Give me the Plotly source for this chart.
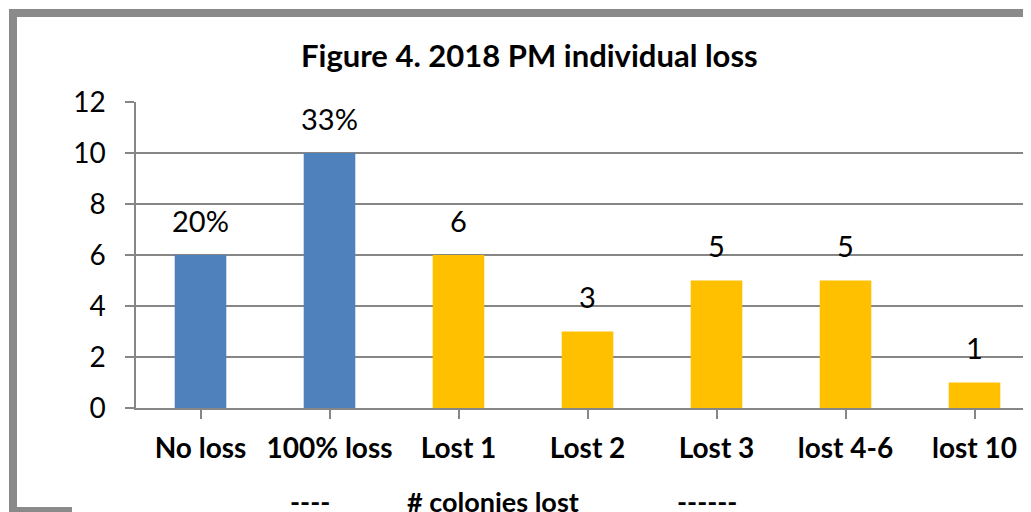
import plotly.graph_objects as go

categories = ["No loss", "100% loss", "Lost 1", "Lost 2", "Lost 3", "lost 4-6", "lost 10"]
values = [6, 10, 6, 3, 5, 5, 1]
labels = ["20%", "33%", "6", "3", "5", "5", "1"]
bar_colors = ["#4F81BD", "#4F81BD", "#FFC000", "#FFC000", "#FFC000", "#FFC000", "#FFC000"]
y_ticks = [0, 2, 4, 6, 8, 10, 12]

# page body has an 8px margin; work in reference pixel coordinates and subtract it
OFF = 8
W, H = 1031, 512
L = 136 - OFF
T = 102 - OFF
B = H - (408 - OFF)
R = 0
PW, PH = W - L - R, H - T - B
CAT_PX = 129.0

FONT = "Lato"

def px_x(px):
    return (px - OFF - L) / PW

def px_y(py):
    return (H - B - (py - OFF)) / PH

fig = go.Figure()
fig.add_trace(go.Bar(
    x=list(range(len(categories))),
    y=values,
    marker=dict(color=bar_colors, line=dict(width=0)),
    width=0.4,
    text=labels,
    textposition="none",
    hoverinfo="skip",
))

for i, (v, t) in enumerate(zip(values, labels)):
    fig.add_annotation(x=i, y=v, text=t, showarrow=False, yshift=35,
                       xanchor="center", yanchor="middle",
                       font=dict(family=FONT, size=29, color="#000000"),
                       xref="x", yref="y")

gray = "#8A8A8A"
frame_w = 8
shapes = [
    dict(type="line", xref="paper", yref="paper", x0=px_x(9), x1=px_x(1045), y0=px_y(13), y1=px_y(13),
         line=dict(color=gray, width=frame_w)),
    dict(type="line", xref="paper", yref="paper", x0=px_x(13), x1=px_x(13), y0=px_y(9), y1=px_y(530),
         line=dict(color=gray, width=frame_w)),
    dict(type="line", xref="paper", yref="paper", x0=px_x(9), x1=px_x(72), y0=px_y(511), y1=px_y(511),
         line=dict(color=gray, width=frame_w)),
]

fig.add_annotation(x=px_x(529), y=px_y(55), xref="paper", yref="paper", showarrow=False,
                   xanchor="center", yanchor="middle",
                   text="<b>Figure 4. 2018 PM individual loss</b>",
                   font=dict(family=FONT, size=31, color="#000000"))
for xc, txt in [(310, "----"), (493, "# colonies lost"), (707, "------")]:
    fig.add_annotation(x=px_x(xc), y=px_y(501), xref="paper", yref="paper", showarrow=False,
                       xanchor="center", yanchor="middle",
                       text="<b>" + txt + "</b>", font=dict(family=FONT, size=27, color="#000000"))

fig.update_layout(
    width=W, height=H,
    margin=dict(l=L, r=R, t=T, b=B, pad=0),
    paper_bgcolor="white", plot_bgcolor="white",
    showlegend=False,
    shapes=shapes,
    xaxis=dict(
        tickmode="array", tickvals=list(range(len(categories))), ticktext=["<b>%s</b>" % c for c in categories],
        range=[-0.5, -0.5 + PW / CAT_PX],
        showline=True, linecolor="#868686", linewidth=1.5,
        ticks="outside", ticklen=9, tickcolor="#868686", tickwidth=1.5,
        showgrid=False, zeroline=False,
        tickfont=dict(family=FONT, size=28, color="#000000"),
        ticklabelstandoff=6,
        fixedrange=True,
    ),
    yaxis=dict(
        range=[0, 12], tickvals=y_ticks,
        showline=True, linecolor="#868686", linewidth=1.5,
        ticks="outside", ticklen=9, tickcolor="#868686", tickwidth=1.5,
        showgrid=True, gridcolor="#868686", gridwidth=1.5,
        zeroline=False,
        tickfont=dict(family=FONT, size=28, color="#000000"),
        ticklabelstandoff=14,
        fixedrange=True,
    ),
)

fig.write_html("out.html", config={"displayModeBar": False})
